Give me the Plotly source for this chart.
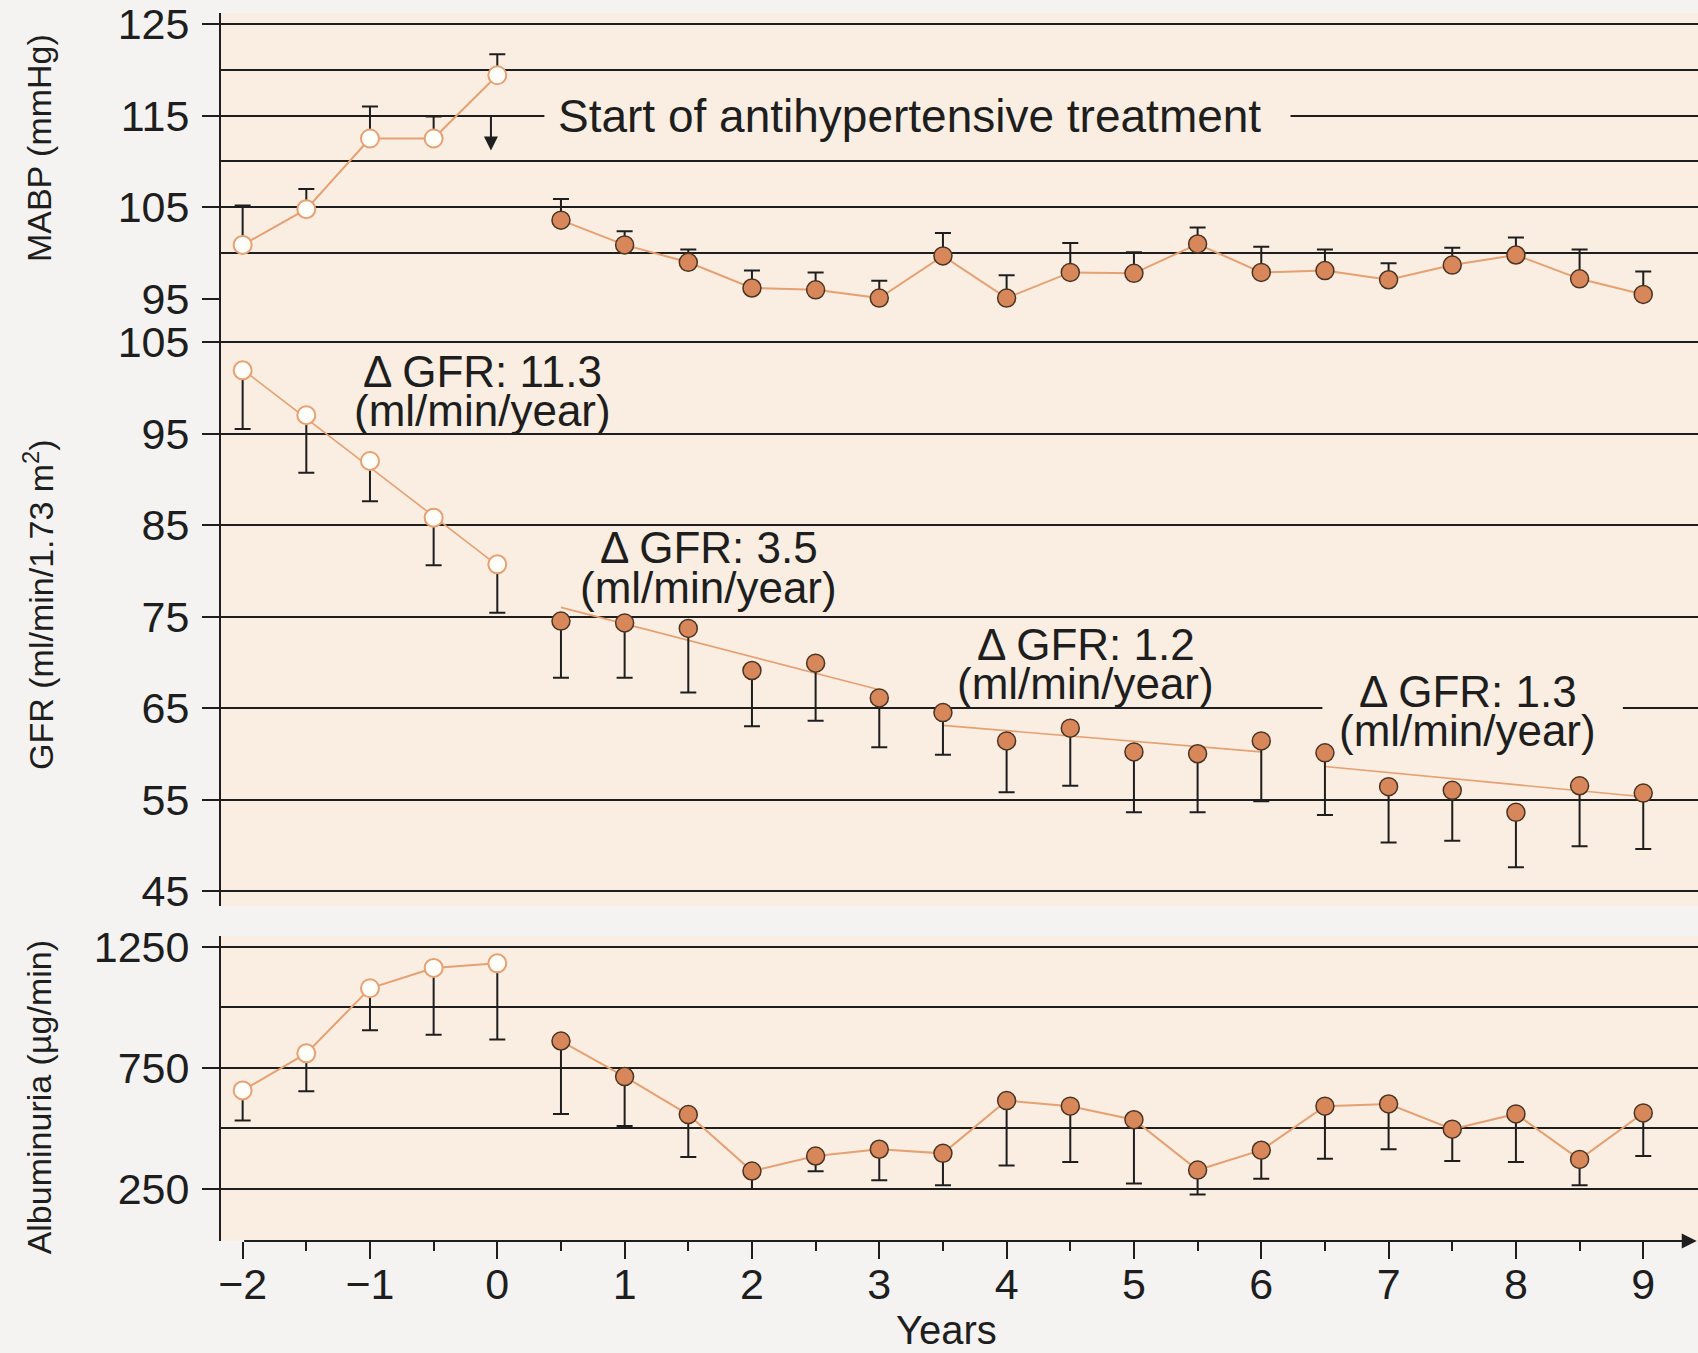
import plotly.graph_objects as go

# ---------------- data ----------------
years_pre = [-2, -1.5, -1, -0.5, 0]
years_post = [0.5, 1, 1.5, 2, 2.5, 3, 3.5, 4, 4.5, 5, 5.5, 6, 6.5, 7, 7.5, 8, 8.5, 9]

mabp_pre = [100.9, 104.8, 112.5, 112.5, 119.4]
mabp_pre_top = [105.2, 107.0, 116.0, 114.9, 121.7]
mabp_post = [103.6, 100.9, 99.0, 96.2, 96.0, 95.1, 99.7, 95.1, 97.9, 97.8, 101.0, 97.9,
             98.1, 97.1, 98.7, 99.8, 97.2, 95.5]
mabp_post_top = [105.9, 102.4, 100.4, 98.1, 97.9, 97.0, 102.2, 97.6, 101.1, 100.1, 102.8, 100.7,
                 100.4, 98.9, 100.6, 101.7, 100.4, 98.0]

gfr_pre = [101.9, 97.0, 92.0, 85.8, 80.7]
gfr_pre_low = [95.5, 90.7, 87.6, 80.6, 75.4]
gfr_post = [74.5, 74.3, 73.7, 69.1, 69.9, 66.1, 64.5, 61.4, 62.8, 60.2, 60.0, 61.4,
            60.1, 56.4, 56.0, 53.6, 56.5, 55.7]
gfr_post_low = [68.3, 68.3, 66.7, 63.0, 63.6, 60.7, 59.9, 55.8, 56.5, 53.6, 53.6, 54.8,
                53.3, 50.3, 50.5, 47.6, 49.9, 49.6]

# GFR regression segments (start/end)
seg_x = [[-2, 0], [0.5, 3.0], [3.5, 6.0], [6.5, 9.0]]
seg_y = [[102.0, 80.6], [76.0, 67.0], [63.1, 60.2], [58.6, 55.3]]
seg_labels = ["11.3", "3.5", "1.2", "1.3"]
seg_label_x = [-0.12, 1.66, 4.62, 7.62]
seg_label_y1 = [101.8, 82.5, 71.9, 66.8]
seg_label_y2 = [97.5, 78.2, 67.7, 62.5]

alb_pre = [657, 810, 1079, 1163, 1182]
alb_pre_low = [533, 654, 906, 887, 867]
alb_post = [861, 714, 557, 324, 386, 414, 397, 615, 592, 536, 328, 410, 592, 601, 497, 560, 372, 564]
alb_post_low = [560, 510, 382, 250, 323, 286, 265, 347, 361, 272, 227, 292, 375, 414, 365, 361, 265, 386]

x_ticks = [-2, -1, 0, 1, 2, 3, 4, 5, 6, 7, 8, 9]
x_ticktext = ["\u22122", "\u22121", "0", "1", "2", "3", "4", "5", "6", "7", "8", "9"]
x_minor = [-1.5, -0.5, 0.5, 1.5, 2.5, 3.5, 4.5, 5.5, 6.5, 7.5, 8.5]
mabp_ticks = [95, 105, 115, 125]
mabp_minor = [100, 110, 120]
gfr_ticks = [45, 55, 65, 75, 85, 95, 105]
alb_ticks = [250, 750, 1250]
alb_minor = [500, 1000]

# ---------------- styling ----------------
BEIGE = "#f9eee1"
PAPER = "#f4f3f1"
INK = "#1e1e1e"
LINE_OR = "#e6a072"
FILL_OR = "#d8875a"
EDGE = "#4a3424"
FONT = "Liberation Sans, Arial, sans-serif"
TICK_SIZE = 43
ANN_SIZE = 44
TITLE_SIZE = 34


def up(v, top):
    return [t - a for a, t in zip(v, top)]


def down(v, low):
    return [a - b for a, b in zip(v, low)]


def err(plus, minus):
    return dict(type="data", symmetric=False, array=plus, arrayminus=minus,
                color=INK, thickness=2, width=8)


open_marker = dict(size=18, color="#fffdf8", line=dict(color=LINE_OR, width=2))
fill_marker = dict(size=18, color=FILL_OR, line=dict(color=EDGE, width=1.5))

fig = go.Figure()

# MABP (top panel)
fig.add_trace(go.Scatter(x=years_pre, y=mabp_pre, mode="lines+markers", xaxis="x3", yaxis="y3",
                         line=dict(color=LINE_OR, width=2), marker=open_marker, cliponaxis=False,
                         error_y=err(up(mabp_pre, mabp_pre_top), [0] * len(mabp_pre))))
fig.add_trace(go.Scatter(x=years_post, y=mabp_post, mode="lines+markers", xaxis="x3", yaxis="y3",
                         line=dict(color=LINE_OR, width=2), marker=fill_marker, cliponaxis=False,
                         error_y=err(up(mabp_post, mabp_post_top), [0] * len(mabp_post))))

# GFR (middle panel)
for sx, sy in zip(seg_x, seg_y):
    fig.add_trace(go.Scatter(x=sx, y=sy, mode="lines", xaxis="x2", yaxis="y2",
                             line=dict(color=LINE_OR, width=1.6)))
fig.add_trace(go.Scatter(x=years_pre, y=gfr_pre, mode="markers", xaxis="x2", yaxis="y2",
                         marker=open_marker, cliponaxis=False,
                         error_y=err([0] * len(gfr_pre), down(gfr_pre, gfr_pre_low))))
fig.add_trace(go.Scatter(x=years_post, y=gfr_post, mode="markers", xaxis="x2", yaxis="y2",
                         marker=fill_marker, cliponaxis=False,
                         error_y=err([0] * len(gfr_post), down(gfr_post, gfr_post_low))))

# Albuminuria (bottom panel)
fig.add_trace(go.Scatter(x=years_pre, y=alb_pre, mode="lines+markers", xaxis="x", yaxis="y",
                         line=dict(color=LINE_OR, width=2), marker=open_marker, cliponaxis=False,
                         error_y=err([0] * len(alb_pre), down(alb_pre, alb_pre_low))))
fig.add_trace(go.Scatter(x=years_post, y=alb_post, mode="lines+markers", xaxis="x", yaxis="y",
                         line=dict(color=LINE_OR, width=2), marker=fill_marker, cliponaxis=False,
                         error_y=err([0] * len(alb_post), down(alb_post, alb_post_low))))

yax_common = dict(ticks="outside", ticklen=17, tickwidth=2, tickcolor=INK,
                  showgrid=True, gridcolor=INK, gridwidth=2, zeroline=False,
                  showline=True, linecolor=INK, linewidth=2, automargin=False,
                  ticklabeloverflow="allow",
                  tickfont=dict(size=TICK_SIZE, color=INK, family=FONT), ticklabelstandoff=4)

XR = [-2.17, 9.43]
fig.update_layout(
    width=1698, height=1353,
    margin=dict(l=221, r=0, t=13, b=112, autoexpand=False),
    paper_bgcolor=PAPER, plot_bgcolor=BEIGE,
    showlegend=False,
    font=dict(family=FONT, color=INK),
    xaxis=dict(domain=[0, 1], anchor="y", range=XR, tickvals=x_ticks, ticktext=x_ticktext,
               ticks="outside", ticklen=17, tickwidth=2, tickcolor=INK, automargin=False,
               minor=dict(tickvals=x_minor, ticks="outside", ticklen=9, tickwidth=2, tickcolor=INK),
               showline=False, showgrid=False, zeroline=False, ticklabelstandoff=-12,
               ticklabeloverflow="allow",
               tickfont=dict(size=TICK_SIZE, color=INK, family=FONT)),
    xaxis2=dict(domain=[0, 1], anchor="y2", range=XR, matches="x", visible=False, automargin=False),
    xaxis3=dict(domain=[0, 1], anchor="y3", range=XR, matches="x", visible=False, automargin=False),
    yaxis=dict(domain=[0, 0.2484], anchor="x", range=[35, 1295], tickvals=alb_ticks,
               minor=dict(tickvals=alb_minor, showgrid=True, gridcolor=INK, gridwidth=2, ticks=""),
               **yax_common),
    yaxis2=dict(domain=[0.2728, 0.7671], anchor="x2", range=[43.36, 109.7], tickvals=gfr_ticks,
                **yax_common),
    yaxis3=dict(domain=[0.7671, 1], anchor="x3", range=[95, 126.19], tickvals=mabp_ticks,
                minor=dict(tickvals=mabp_minor, showgrid=True, gridcolor=INK, gridwidth=2, ticks=""),
                **yax_common),
)

# gaps in grid lines behind the labels
fig.add_shape(type="rect", xref="x3", yref="y3", x0=0.37, x1=6.23, y0=113.6, y1=116.4,
              fillcolor=BEIGE, line=dict(width=0), layer="between")
fig.add_shape(type="rect", xref="x2", yref="y2", x0=6.48, x1=8.84, y0=64.0, y1=66.0,
              fillcolor=BEIGE, line=dict(width=0), layer="between")

# axis titles
TX = -0.1232
fig.add_annotation(text="MABP (mmHg)", xref="paper", yref="paper", x=TX, y=0.890,
                   xanchor="center", yanchor="middle",
                   textangle=-90, showarrow=False, font=dict(size=TITLE_SIZE, color=INK))
fig.add_annotation(text="GFR (ml/min/1.73 m<sup>2</sup>)", xref="paper", yref="paper", x=TX,
                   y=0.518, xanchor="center", yanchor="middle",
                   textangle=-90, showarrow=False, font=dict(size=TITLE_SIZE, color=INK))
fig.add_annotation(text="Albuminuria (\u00b5g/min)", xref="paper", yref="paper", x=TX, y=0.117,
                   xanchor="center", yanchor="middle",
                   textangle=-90, showarrow=False, font=dict(size=TITLE_SIZE, color=INK))
fig.add_annotation(text="Years", xref="paper", yref="paper", x=0.491, y=-0.0725,
                   xanchor="center", yanchor="middle",
                   showarrow=False, font=dict(size=40, color=INK))

# treatment start
fig.add_annotation(text="Start of antihypertensive treatment", xref="x3", yref="y3", x=3.24, y=115,
                   showarrow=False, font=dict(size=46, color=INK))
fig.add_annotation(text="", xref="x3", yref="y3", x=-0.05, y=111.2, ax=-0.05, ay=115,
                   axref="x3", ayref="y3", showarrow=True, arrowhead=2, arrowsize=1.4,
                   arrowwidth=2, arrowcolor=INK)

# Δ GFR labels
for lab, lx, ly1, ly2 in zip(seg_labels, seg_label_x, seg_label_y1, seg_label_y2):
    fig.add_annotation(text="\u0394 GFR: " + lab, xref="x2", yref="y2", x=lx, y=ly1,
                       showarrow=False, font=dict(size=ANN_SIZE, color=INK))
    fig.add_annotation(text="(ml/min/year)", xref="x2", yref="y2", x=lx, y=ly2,
                       showarrow=False, font=dict(size=ANN_SIZE, color=INK))

# x axis line with arrow
fig.add_annotation(text="", xref="x", yref="y", x=9.42, y=35, ax=-2.0, ay=35,
                   axref="x", ayref="y", showarrow=True, arrowhead=2, arrowsize=1.5,
                   arrowwidth=2, arrowcolor=INK, standoff=0, startstandoff=0)

fig.write_html("out.html", config={"displayModeBar": False},
               post_script="document.body.style.margin='0';"
                           "document.body.style.background='%s';" % PAPER)
